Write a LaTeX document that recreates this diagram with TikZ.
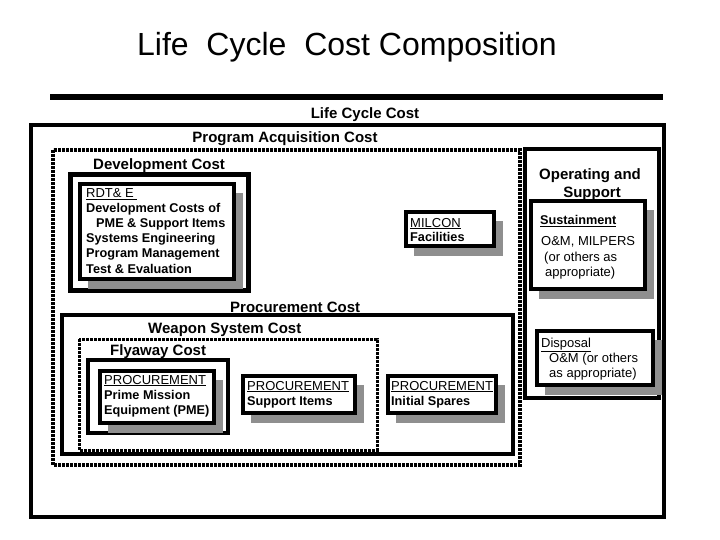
\documentclass[tikz,border=0pt]{standalone}
\usepackage{fontspec}
\setmainfont{Liberation Sans}
\newcommand{\shbox}[4]{%
  \fill[shadowfill] (#1+8,#2+9) rectangle (#3+9,#4+10);
  \draw[boxline,fill=white] (#1,#2) rectangle (#3,#4);}
\begin{document}
\begin{tikzpicture}[x=1pt,y=-1pt,
  boxline/.style={line width=4pt,draw=black},
  shadowfill/.style={fill=black!44},
  dots/.style={line width=4pt,dash pattern=on 2.6pt off 1.4pt},
  head/.style={font=\bfseries\fontsize{15}{18}\selectfont,inner sep=0pt},
  txt/.style={font=\fontsize{13}{16}\selectfont,inner sep=0pt,anchor=base west},
  btxt/.style={font=\bfseries\fontsize{12.7}{16}\selectfont,inner sep=0pt,anchor=base west}]
\useasboundingbox (0,0) rectangle (720,540);

% title and rule
\node[font=\fontsize{32}{38}\selectfont,inner sep=0pt,anchor=base] (title) at (347,56) {Life\ \ Cycle\ \ Cost Composition};
\draw[line width=6pt] (50,97) -- (663,97);

% outer life cycle box
\node[head,anchor=base] (lcc) at (365,119) {Life Cycle Cost};
\draw[boxline] (31,125) rectangle (664,517);

% program acquisition
\node[head,anchor=base] (pac) at (285,143) {Program Acquisition Cost};
\draw[dots] (53,150) rectangle (520,465);

% development
\node[head,anchor=base west] (devl) at (93,170) {Development Cost};
\draw[line width=5pt] (70,175) rectangle (248,290);
\shbox{80}{184}{234}{279}
\node[txt] (d1) at (86,198) {\underline{RDT\& E\ }};
\node[btxt] (d2) at (86,213) {Development Costs of};
\node[btxt] (d3) at (96,228) {PME \& Support Items};
\node[btxt] (d4) at (86,243) {Systems Engineering};
\node[btxt] (d5) at (86,258) {Program Management};
\node[btxt] (d6) at (86,273) {Test \& Evaluation};

% milcon
\shbox{406}{212}{494}{246}
\node[txt] (m1) at (410,227) {\underline{MILCON}};
\node[btxt] (m2) at (410,241) {Facilities};

% operating and support
\draw[boxline] (525,149) rectangle (659,398);
\node[head,anchor=base] (os1) at (590,180) {Operating and};
\node[head,anchor=base] (os2) at (592,197) {Support};
\shbox{531}{201}{645}{289}
\node[btxt] (s1) at (540,225) {\underline{Sustainment}};
\node[txt] (s2) at (541,245) {O\&M, MILPERS};
\node[txt] (s3) at (544,261) {(or others as};
\node[txt] (s4) at (545,276) {appropriate)};
\shbox{537}{331}{653}{385}
\node[txt] (p1) at (541,347) {\underline{Disposal}};
\node[txt] (p2) at (549,362) {O\&M (or others};
\node[txt] (p3) at (549,377) {as appropriate)};

% procurement
\node[head,anchor=base west] (prl) at (230,312) {Procurement Cost};
\draw[boxline] (62,315) rectangle (513,454);
\node[head,anchor=base west] (wsl) at (148,333) {Weapon System Cost};
\draw[dots,line width=3pt] (79,339) rectangle (377,450);
\node[head,anchor=base west] (fal) at (110,355) {Flyaway Cost};
\draw[boxline] (88,360) rectangle (228,433);
\shbox{100}{371}{214}{423}
\node[txt] (e1) at (104,384) {\underline{PROCUREMENT}};
\node[btxt] (e2) at (104,399) {Prime Mission};
\node[btxt] (e3) at (104,414) {Equipment (PME)};
\shbox{243}{376}{355}{413}
\node[txt] (u1) at (247,390) {\underline{PROCUREMENT}};
\node[btxt] (u2) at (247,405) {Support Items};
\shbox{388}{376}{496}{413}
\node[txt] (i1) at (391,390) {\underline{PROCUREMENT}};
\node[btxt] (i2) at (391,405) {Initial Spares};
\end{tikzpicture}
\end{document}
